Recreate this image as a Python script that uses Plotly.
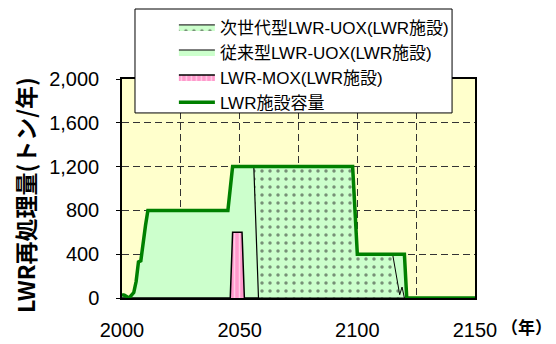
import plotly.graph_objects as go

years = [2000, 2001, 2003, 2005, 2006, 2007, 2008, 2009, 2010, 2011, 2045, 2046, 2047,
         2051, 2052, 2056, 2058, 2098, 2100, 2115, 2118, 2119, 2120, 2121, 2150]
capacity = [30, 25, 0, 50, 150, 330, 340, 530, 665, 800, 800, 1000, 1200,
            1200, 1200, 1200, 1200, 1200, 400, 400, 400, 400, 400, 0, 0]
mox = [0, 0, 0, 0, 0, 0, 0, 0, 0, 0, 0, 0, 600,
       600, 0, 0, 0, 0, 0, 0, 0, 0, 0, 0, 0]
conventional = [30, 25, 0, 50, 150, 330, 340, 530, 665, 800, 800, 1000, 600,
                600, 1200, 1200, 0, 0, 0, 0, 0, 0, 0, 0, 0]
nextgen = [0, 0, 0, 0, 0, 0, 0, 0, 0, 0, 0, 0, 0,
           0, 0, 0, 1200, 1200, 400, 400, 30, 100, 0, 0, 0]
tail = [0, 0, 0, 0, 0, 0, 0, 0, 0, 0, 0, 0, 0,
        0, 0, 0, 0, 0, 0, 0, 370, 300, 400, 0, 0]

names = ["次世代型LWR-UOX(LWR施設)", "従来型LWR-UOX(LWR施設)", "LWR-MOX(LWR施設)", "LWR施設容量"]
x_ticks = [2000, 2050, 2100, 2150]
y_title = "LWR再処理量(トン/年)"
x_unit = "（年）"

GREEN_FILL = "#CCFFCC"
PINK = "#FF99CC"
NUM_FONT = "Liberation Sans, Arial, sans-serif"
JP_FONT = "Noto Sans CJK JP, sans-serif"
LEG_FONT = "Liberation Sans, Noto Sans CJK JP, sans-serif"
GRID_DASH = "7px,4px"

fig = go.Figure()
fig.add_trace(go.Scatter(
    x=years, y=mox, name=names[2], stackgroup="s", mode="lines",
    line=dict(color="black", width=1.5), fillcolor=PINK,
    fillpattern=dict(shape="|", bgcolor=PINK, fgcolor="white", size=5, solidity=0.3),
    legendrank=3))
fig.add_trace(go.Scatter(
    x=years, y=conventional, name=names[1], stackgroup="s", mode="lines",
    line=dict(color="black", width=1.2), fillcolor=GREEN_FILL,
    legendrank=2))
fig.add_trace(go.Scatter(
    x=years, y=nextgen, name=names[0], stackgroup="s", mode="lines",
    line=dict(color="black", width=1), fillcolor=GREEN_FILL,
    fillpattern=dict(shape=".", bgcolor=GREEN_FILL, fgcolor="#222222", size=8, solidity=0.15),
    legendrank=1))
fig.add_trace(go.Scatter(
    x=years, y=tail, stackgroup="s", mode="lines",
    line=dict(color=GREEN_FILL, width=0), fillcolor=GREEN_FILL,
    showlegend=False, hoverinfo="skip", legendrank=5))
fig.add_trace(go.Scatter(
    x=years, y=capacity, name=names[3], mode="lines",
    line=dict(color="#008000", width=3.5),
    legendrank=4))

fig.update_layout(
    width=556, height=344,
    margin=dict(l=122, r=81, t=79, b=46, autoexpand=False),
    paper_bgcolor="white", plot_bgcolor="#FFFFCC",
    showlegend=True,
    legend=dict(
        x=0.147, y=1.318, xanchor="left", yanchor="top",
        bgcolor="rgba(0,0,0,0)", borderwidth=0,
        font=dict(family=LEG_FONT, size=17, color="black"),
        traceorder="normal", itemwidth=36,
    ),
    shapes=[
        dict(type="rect", xref="paper", yref="paper", layer="above",
             x0=0.0368, x1=0.935, y0=0.845, y1=1.3196,
             fillcolor="white", line=dict(color="black", width=1)),
    ],
    annotations=[
        dict(text=y_title, xref="paper", yref="paper", x=-0.275, y=0.47,
             xanchor="center", yanchor="middle",
             textangle=-90, showarrow=False,
             font=dict(family=JP_FONT, size=23, color="black", weight="bold")),
        dict(text=x_unit, xref="paper", yref="paper", x=1.147, y=-0.132,
             xanchor="center", yanchor="middle",
             showarrow=False, font=dict(family=JP_FONT, size=17, color="black", weight="bold")),
    ],
)
fig.update_xaxes(
    range=[2000, 2150], tickvals=x_ticks, ticktext=[str(v) for v in x_ticks],
    showgrid=True, gridcolor="#333333", griddash=GRID_DASH, gridwidth=1,
    minor=dict(dtick=25, showgrid=True, gridcolor="#333333", griddash=GRID_DASH, gridwidth=1),
    showline=True, linecolor="black", linewidth=1.8, mirror=True,
    ticks="", ticklabelstandoff=13, automargin=False,
    tickfont=dict(family=NUM_FONT, size=20, color="black"), zeroline=False,
)
fig.update_yaxes(
    range=[0, 2000], dtick=400, tickformat=",",
    showgrid=True, gridcolor="#333333", griddash=GRID_DASH, gridwidth=1,
    showline=True, linecolor="black", linewidth=1.5, mirror=True,
    ticks="outside", ticklen=4, tickcolor="black", ticklabelstandoff=13, automargin=False,
    tickfont=dict(family=NUM_FONT, size=20, color="black"), zeroline=False,
)

fig.write_html("out.html", config={"displayModeBar": False},
               post_script="document.body.style.margin='0';")
